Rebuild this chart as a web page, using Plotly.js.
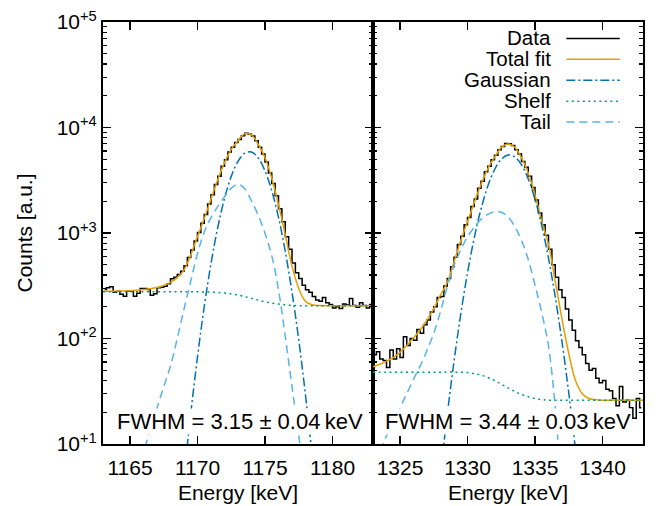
<!DOCTYPE html>
<html>
<head>
<meta charset="utf-8">
<script src="https://cdn.plot.ly/plotly-3.0.1.min.js"></script>
<style>
html,body{margin:0;padding:0;background:#fff;}
#chart{width:665px;height:506px;}
</style>
</head>
<body>
<div id="chart"></div>
<script>
// ---------------- data ----------------
const binWidth = 0.25;     // keV per histogram bin
const fitStep = 0.5;       // keV between sampled fit points
const shelfStep = 1.0;     // keV between sampled shelf points

// Left panel
const leftRange = [1163, 1183];
const leftTicks = [1165, 1170, 1175, 1180];
const leftBinStart = 1163;
const leftData = [
  292, 302, 310, 275, 281, 262, 252, 281, 281, 252, 268, 298, 298, 292, 257, 265,
  302, 306, 313, 330, 368, 380, 405, 435, 490, 585, 690, 840, 1010, 1240, 1500, 1880,
  2300, 2880, 3450, 4300, 4950, 5850, 6500, 7200, 7700, 8350, 8800, 8650, 8300, 7500, 6500, 5600,
  4700, 3700, 2950, 2250, 1700, 1280, 920, 700, 520, 420, 370, 320, 290, 275, 250, 232,
  225, 245, 218, 210, 195, 200, 192, 212, 208, 240, 205, 198, 218, 205, 195, 210
];
const leftFitStart = 1163;
const leftTotalFit = [
  280, 280, 281, 282, 284, 287, 291, 296, 304, 318, 340, 378, 445, 620, 925, 1370,
  2100, 3200, 4650, 6200, 7500, 8700, 8500, 6900, 5200, 3300, 1860, 965, 485, 298, 225, 209,
  205, 204, 204, 204, 204, 204, 204, 204, 204
];
const leftGaussStart = 1168.5;
const leftGauss = [
  1.0, 4.8, 19.4, 67, 201, 513, 1127, 2126, 3441, 4783, 5707, 5848, 5146, 3886, 2521, 1404,
  671, 275, 97, 29, 7.6, 1.6
];
const leftTailStart = 1165.5;
const leftTail = [
  4, 8, 14, 22, 35, 55, 100, 190, 350, 640, 1020, 1400, 1780, 2200, 2650, 2900,
  2620, 2010, 1470, 994, 611, 289, 105, 35, 12, 4
];
const leftShelfStart = 1163;
const leftShelf = [
  277, 277, 277, 277, 277, 277, 277, 277, 275, 270, 258, 240, 223, 212, 206, 204,
  204, 204, 204, 204, 204
];
const leftLabel = 'FWHM = 3.15 \u00b1 0.04\u2009keV';

// Right panel
const rightRange = [1323, 1343];
const rightTicks = [1325, 1330, 1335, 1340];
const rightBinStart = 1323;
const rightData = [
  70, 75, 64, 62, 53, 78, 64, 80, 66, 104, 86, 100, 96, 122, 112, 135,
  150, 178, 200, 245, 250, 315, 370, 480, 590, 780, 930, 1200, 1400, 1780, 2100, 2650,
  3100, 3800, 4300, 4950, 5450, 6150, 6600, 7050, 7000, 6750, 6150, 5600, 4750, 4200, 3450, 2700,
  2050, 1550, 1200, 950, 700, 500, 380, 290, 245, 190, 150, 120, 95, 82, 70, 58,
  50, 52, 42, 38, 40, 33, 32, 27, 23, 35, 25, 26, 22, 17.5, 27, 22
];
const rightFitStart = 1323;
const rightTotalFit = [
  54, 57, 61, 66, 74, 86, 101, 121, 150, 192, 258, 340, 530, 845, 1280, 1950,
  2880, 4060, 5200, 6450, 6980, 6500, 5150, 3700, 2300, 1290, 775, 347, 153, 72, 40, 30,
  27, 26.3, 26, 26, 26, 26, 26, 26, 26
];
const rightGaussStart = 1327.5;
const rightGauss = [
  1.2, 5.2, 18.9, 60.6, 170, 418, 898, 1686, 2769, 3977, 4994, 5485, 5269, 4427, 3252, 2089,
  1174, 577, 248, 93, 30.6, 8.8, 2.2
];
const rightTailStart = 1323;
const rightTail = [
  5, 8, 12, 16, 22, 30, 41, 55, 77, 112, 180, 310, 490, 690, 920, 1130,
  1350, 1500, 1590, 1570, 1420, 1150, 850, 560, 320, 175, 85, 22, 3
];
const rightShelfStart = 1323;
const rightShelf = [
  48, 48, 48, 48, 48, 48, 48, 47.5, 45, 40, 34, 29.5, 27, 26, 26, 26,
  26, 26, 26, 26, 26
];
const rightLabel = 'FWHM = 3.44 \u00b1 0.03\u2009keV';

// y-axis ticks
const yTickVals = [10, 100, 1000, 10000, 100000];
const yTickText = ['10<sup>+1</sup>', '10<sup>+2</sup>', '10<sup>+3</sup>', '10<sup>+4</sup>', '10<sup>+5</sup>'];
const yMinorVals = [];
[10, 100, 1000, 10000].forEach(d => { for (let k = 2; k <= 9; k++) yMinorVals.push(k * d); });

// legend entries
const legendNames = ['Data', 'Total fit', 'Gaussian', 'Shelf', 'Tail'];

// ---------------- styles ----------------
const FONT = 'Liberation Sans, Arial, sans-serif';
const styles = {
  data:  {color: '#000000', width: 1.5, dash: 'solid'},
  total: {color: '#E69F00', width: 1.5, dash: 'solid'},
  gauss: {color: '#0072B2', width: 1.5, dash: '9px,3px,2px,3px'},
  shelf: {color: '#009E73', width: 1.5, dash: '2px,3.5px'},
  tail:  {color: '#56B4E9', width: 1.5, dash: '8px,5px'}
};

function panelTraces(xa, ya, binStart, data, fitStart, total, gStart, gauss, sStart, shelf, tStart, tail) {
  return [
    {type: 'scatter', mode: 'lines', xaxis: xa, yaxis: ya, x0: binStart + binWidth / 2, dx: binWidth, y: data,
     line: {color: styles.data.color, width: styles.data.width, shape: 'hvh'}, hoverinfo: 'skip'},
    {type: 'scatter', mode: 'lines', xaxis: xa, yaxis: ya, x0: fitStart, dx: fitStep, y: total,
     line: {color: styles.total.color, width: styles.total.width, shape: 'spline', smoothing: 1}, hoverinfo: 'skip'},
    {type: 'scatter', mode: 'lines', xaxis: xa, yaxis: ya, x0: gStart, dx: fitStep, y: gauss,
     line: {color: styles.gauss.color, width: styles.gauss.width, dash: styles.gauss.dash, shape: 'spline', smoothing: 1}, hoverinfo: 'skip'},
    {type: 'scatter', mode: 'lines', xaxis: xa, yaxis: ya, x0: sStart, dx: shelfStep, y: shelf,
     line: {color: styles.shelf.color, width: styles.shelf.width, dash: styles.shelf.dash, shape: 'spline', smoothing: 1}, hoverinfo: 'skip'},
    {type: 'scatter', mode: 'lines', xaxis: xa, yaxis: ya, x0: tStart, dx: fitStep, y: tail,
     line: {color: styles.tail.color, width: styles.tail.width, dash: styles.tail.dash, shape: 'spline', smoothing: 1}, hoverinfo: 'skip'}
  ];
}

const traces = [].concat(
  panelTraces('x', 'y', leftBinStart, leftData, leftFitStart, leftTotalFit, leftGaussStart, leftGauss,
              leftShelfStart, leftShelf, leftTailStart, leftTail),
  panelTraces('x2', 'y2', rightBinStart, rightData, rightFitStart, rightTotalFit, rightGaussStart, rightGauss,
              rightShelfStart, rightShelf, rightTailStart, rightTail)
);

const tickFont = {family: FONT, size: 21, color: '#000'};
const titleFont = {family: FONT, size: 21, color: '#000'};
const common = {
  showline: true, linecolor: '#000', linewidth: 2, mirror: 'ticks',
  ticks: 'inside', ticklen: 8, tickwidth: 1.5, tickcolor: '#000',
  showgrid: false, zeroline: false, tickfont: tickFont, fixedrange: true
};
const yMinor = {tickmode: 'array', tickvals: yMinorVals, ticks: 'inside', ticklen: 4, tickwidth: 1.2, tickcolor: '#000', showgrid: false};

// legend as right-aligned text with line samples on the right
const legendStyles = [styles.data, styles.total, styles.gauss, styles.shelf, styles.tail];
const legendTop = 0.9630, legendStepY = 0.0495;
const annotations = legendNames.map((n, i) => ({
  xref: 'paper', yref: 'paper', x: 0.834, y: legendTop - i * legendStepY,
  xanchor: 'right', yanchor: 'middle', text: n, showarrow: false,
  font: {family: FONT, size: 20.5, color: '#000'}
}));
const shapes = legendStyles.map((s, i) => ({
  type: 'line', xref: 'paper', yref: 'paper',
  x0: 0.858, x1: 0.957, y0: legendTop - i * legendStepY - 0.002, y1: legendTop - i * legendStepY - 0.002,
  line: {color: s.color, width: s.width, dash: s.dash}
}));
annotations.push(
  {xref: 'paper', yref: 'paper', x: 0.2537, y: 0.053, xanchor: 'center', yanchor: 'middle', text: leftLabel,
   showarrow: false, bgcolor: '#fff', borderpad: 0, font: {family: FONT, size: 22, color: '#000'}},
  {xref: 'paper', yref: 'paper', x: 0.750, y: 0.053, xanchor: 'center', yanchor: 'middle', text: rightLabel,
   showarrow: false, bgcolor: '#fff', borderpad: 0, font: {family: FONT, size: 22, color: '#000'}}
);

const layout = {
  width: 665, height: 506,
  margin: {l: 103, r: 22, t: 22, b: 62},
  paper_bgcolor: '#fff', plot_bgcolor: '#fff',
  showlegend: false,
  font: {family: FONT, size: 21, color: '#000'},
  xaxis: Object.assign({}, common, {
    domain: [0, 0.5], anchor: 'y', range: leftRange, tickmode: 'array', tickvals: leftTicks,
    ticklabelstandoff: 4,
    title: {text: 'Energy [keV]', font: titleFont, standoff: 7}
  }),
  xaxis2: Object.assign({}, common, {
    domain: [0.5, 1], anchor: 'y2', range: rightRange, tickmode: 'array', tickvals: rightTicks,
    ticklabelstandoff: 4,
    title: {text: 'Energy [keV]', font: titleFont, standoff: 7}
  }),
  yaxis: Object.assign({}, common, {
    type: 'log', range: [1, 5], anchor: 'x', tickmode: 'array', tickvals: yTickVals, ticktext: yTickText,
    minor: yMinor,
    title: {text: 'Counts [a.u.]', font: titleFont, standoff: 18}
  }),
  yaxis2: Object.assign({}, common, {
    type: 'log', range: [1, 5], anchor: 'x2', matches: 'y', tickmode: 'array', tickvals: yTickVals,
    showticklabels: false, minor: yMinor
  }),
  annotations: annotations,
  shapes: shapes
};

Plotly.newPlot('chart', traces, layout, {staticPlot: true, displayModeBar: false});
</script>
</body>
</html>
